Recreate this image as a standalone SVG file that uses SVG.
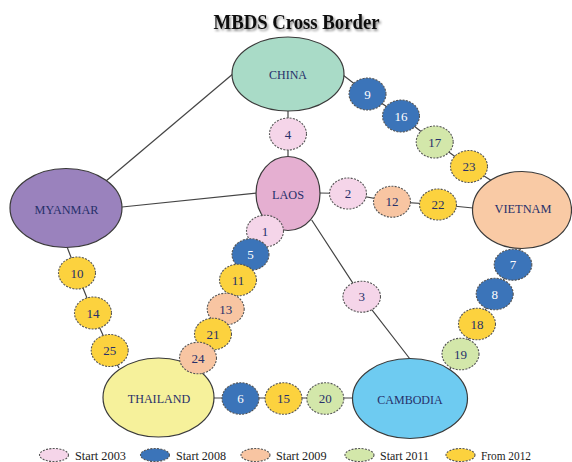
<svg xmlns="http://www.w3.org/2000/svg" width="572" height="462" viewBox="0 0 572 462">
<defs>
<filter id="shadow" x="-10%" y="-30%" width="120%" height="160%">
<feDropShadow dx="1.5" dy="2" stdDeviation="1.2" flood-color="#000" flood-opacity="0.45"/>
</filter>
</defs>
<style>
.big{stroke:#3a3a3a;stroke-width:1.2}
.sm{stroke:#555;stroke-width:1.1;stroke-dasharray:2 1.3}
.lbl{font-family:"Liberation Serif","Times New Roman",serif;font-size:13.5px;fill:#27306a;text-anchor:middle}
.num{font-family:"Liberation Serif","Times New Roman",serif;font-size:13px;fill:#27306a;text-anchor:middle}
.wnum{fill:#ffffff}
.leg{font-family:"Liberation Serif","Times New Roman",serif;font-size:12px;fill:#222}
.c03{fill:#f5d5e9}.c08{fill:#3b74b9}.c09{fill:#f8c5a2}.c11{fill:#d3e7aa}.c12{fill:#fcd23e}
.conn{stroke:#444;stroke-width:1.2;fill:none}
</style>
<rect width="572" height="462" fill="#ffffff"/>
<text x="296.5" y="29" font-family="Liberation Serif,'Times New Roman',serif" font-size="20.5" font-weight="bold" text-anchor="middle" fill="#111" filter="url(#shadow)" textLength="166" lengthAdjust="spacingAndGlyphs">MBDS Cross Border</text>

<g id="connectors">
<line class="conn" x1="106" y1="181" x2="234" y2="73"/>
<line class="conn" x1="122" y1="207" x2="257" y2="193"/>
<line class="conn" x1="288" y1="110" x2="288" y2="158"/>
<polyline class="conn" points="343,75 367.5,94 401,116 434.7,142 469,166.5 492,181"/>
<polyline class="conn" points="319,193 348,193.5 392,201.7 438,204.5 473,208"/>
<polyline class="conn" points="280,215 265,231 250.5,254.5 238,280 225.7,309 213,334 198,358 190,372"/>
<polyline class="conn" points="311.7,220 361.7,296.7 410,359"/>
<polyline class="conn" points="521.7,246 513,264.7 494.7,294 477,324 460.5,354 448,372"/>
<polyline class="conn" points="66.7,246 77,273 93,313 109.7,350 119,368"/>
<line class="conn" x1="213" y1="398" x2="353" y2="398"/>
</g>

<g id="china"><ellipse class="big" cx="288" cy="74" rx="56" ry="37" fill="#a9dbc7"/><text class="lbl" x="288" y="79" textLength="38" lengthAdjust="spacingAndGlyphs">CHINA</text></g>
<g id="laos"><ellipse class="big" cx="288" cy="193.5" rx="32" ry="37" fill="#e5afd1"/><text class="lbl" x="288" y="198.5" textLength="32" lengthAdjust="spacingAndGlyphs">LAOS</text></g>
<g id="myanmar"><ellipse class="big" cx="66" cy="208" rx="56" ry="39.5" fill="#9a82bd"/><text class="lbl" x="66.5" y="214" textLength="64" lengthAdjust="spacingAndGlyphs">MYANMAR</text></g>
<g id="vietnam"><ellipse class="big" cx="522" cy="210" rx="49.5" ry="38.5" fill="#f9caa5"/><text class="lbl" x="523" y="213" textLength="57" lengthAdjust="spacingAndGlyphs">VIETNAM</text></g>
<g id="thailand"><ellipse class="big" cx="158.5" cy="397.5" rx="55.5" ry="39.5" fill="#f6f19b"/><text class="lbl" x="159" y="403" textLength="62.5" lengthAdjust="spacingAndGlyphs">THAILAND</text></g>
<g id="cambodia"><ellipse class="big" cx="410" cy="398.5" rx="57.5" ry="40" fill="#6ecbf1"/><text class="lbl" x="410" y="404" textLength="65.5" lengthAdjust="spacingAndGlyphs">CAMBODIA</text></g>

<g id="n4"><ellipse class="sm c03" cx="288" cy="134" rx="18.5" ry="16"/><text class="num" x="288" y="138.5">4</text></g>
<g id="n9"><ellipse class="sm c08" cx="367.5" cy="94" rx="18.5" ry="16"/><text class="num wnum" x="367.5" y="98.5">9</text></g>
<g id="n16"><ellipse class="sm c08" cx="401" cy="116" rx="18.5" ry="16"/><text class="num wnum" x="401" y="120.5">16</text></g>
<g id="n17"><ellipse class="sm c11" cx="434.7" cy="142" rx="18.5" ry="16"/><text class="num" x="434.7" y="146.5">17</text></g>
<g id="n23"><ellipse class="sm c12" cx="469" cy="166.5" rx="18.5" ry="16"/><text class="num" x="469" y="171">23</text></g>
<g id="n2"><ellipse class="sm c03" cx="348" cy="193.5" rx="18.5" ry="15.5"/><text class="num" x="348" y="198">2</text></g>
<g id="n12"><ellipse class="sm c09" cx="392" cy="201.7" rx="18.5" ry="15.5"/><text class="num" x="392" y="206.2">12</text></g>
<g id="n22"><ellipse class="sm c12" cx="438" cy="204.5" rx="18.5" ry="15.5"/><text class="num" x="438" y="209">22</text></g>
<g id="n1"><ellipse class="sm c03" cx="265" cy="231" rx="18.5" ry="15.8"/><text class="num" x="265" y="235.5">1</text></g>
<g id="n5"><ellipse class="sm c08" cx="250.5" cy="254.5" rx="18.5" ry="15.8"/><text class="num wnum" x="250.5" y="259">5</text></g>
<g id="n11"><ellipse class="sm c12" cx="238" cy="280" rx="18.5" ry="15.8"/><text class="num" x="238" y="284.5">11</text></g>
<g id="n13"><ellipse class="sm c09" cx="225.7" cy="309" rx="18.5" ry="15.8"/><text class="num" x="225.7" y="313.5">13</text></g>
<g id="n21"><ellipse class="sm c12" cx="213" cy="334" rx="18.5" ry="15.8"/><text class="num" x="213" y="338.5">21</text></g>
<g id="n24"><ellipse class="sm c09" cx="198" cy="358" rx="18.5" ry="15.8"/><text class="num" x="198" y="362.5">24</text></g>
<g id="n3"><ellipse class="sm c03" cx="361.7" cy="296.7" rx="18.8" ry="15.5"/><text class="num" x="361.7" y="301.2">3</text></g>
<g id="n7"><ellipse class="sm c08" cx="513" cy="264.7" rx="18.8" ry="15.5"/><text class="num wnum" x="513" y="269.2">7</text></g>
<g id="n8"><ellipse class="sm c08" cx="494.7" cy="294" rx="18.5" ry="15.8"/><text class="num wnum" x="494.7" y="298.5">8</text></g>
<g id="n18"><ellipse class="sm c12" cx="477" cy="324" rx="18.5" ry="15.8"/><text class="num" x="477" y="328.5">18</text></g>
<g id="n19"><ellipse class="sm c11" cx="460.5" cy="354" rx="18.5" ry="15.8"/><text class="num" x="460.5" y="358.5">19</text></g>
<g id="n10"><ellipse class="sm c12" cx="77" cy="273" rx="18.5" ry="16"/><text class="num" x="77" y="277.5">10</text></g>
<g id="n14"><ellipse class="sm c12" cx="93" cy="313" rx="18.5" ry="16"/><text class="num" x="93" y="317.5">14</text></g>
<g id="n25"><ellipse class="sm c12" cx="109.7" cy="350.5" rx="18.5" ry="16"/><text class="num" x="109.7" y="355">25</text></g>
<g id="n6"><ellipse class="sm c08" cx="240.5" cy="398.5" rx="18.5" ry="15.8"/><text class="num wnum" x="240.5" y="403">6</text></g>
<g id="n15"><ellipse class="sm c12" cx="283.5" cy="398.5" rx="18.5" ry="15.8"/><text class="num" x="283.5" y="403">15</text></g>
<g id="n20"><ellipse class="sm c11" cx="325.3" cy="398.5" rx="18.5" ry="15.8"/><text class="num" x="325.3" y="403">20</text></g>

<g id="legend">
<ellipse class="sm c03" cx="54" cy="455" rx="14.5" ry="6.5"/><text class="leg" x="75" y="459.5" textLength="51" lengthAdjust="spacingAndGlyphs">Start  2003</text>
<ellipse class="sm c08" cx="155" cy="455" rx="14.5" ry="6.5"/><text class="leg" x="176" y="459.5" textLength="50" lengthAdjust="spacingAndGlyphs">Start  2008</text>
<ellipse class="sm c09" cx="255.5" cy="455" rx="14.5" ry="6.5"/><text class="leg" x="276" y="459.5" textLength="50.5" lengthAdjust="spacingAndGlyphs">Start  2009</text>
<ellipse class="sm c11" cx="359.5" cy="455" rx="14.5" ry="6.5"/><text class="leg" x="380" y="459.5" textLength="49" lengthAdjust="spacingAndGlyphs">Start  2011</text>
<ellipse class="sm c12" cx="460.5" cy="455" rx="14.5" ry="6.5"/><text class="leg" x="481" y="459.5" textLength="50" lengthAdjust="spacingAndGlyphs">From 2012</text>
</g>
</svg>
